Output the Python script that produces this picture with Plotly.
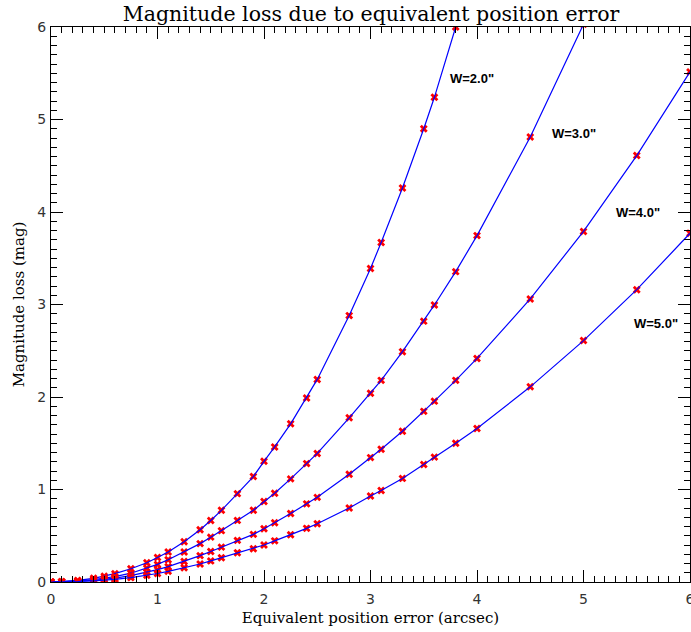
import plotly.graph_objects as go

# Equivalent position error (arcsec) sampling points shared by all curves
x_err = [0, 0.1, 0.25, 0.4, 0.5, 0.6, 0.75, 0.9, 1.0, 1.1, 1.25, 1.4, 1.5, 1.6, 1.75,
         1.9, 2.0, 2.1, 2.25, 2.4, 2.5, 2.8, 3.0, 3.1, 3.3, 3.5, 3.6, 3.8, 4.0, 4.5,
         5.0, 5.5, 6.0]

# Magnitude loss (mag) for each width W
loss_w2 = [0, 0.004, 0.017, 0.04, 0.063, 0.09, 0.143, 0.208, 0.265, 0.325, 0.435, 0.565,
           0.665, 0.775, 0.955, 1.14, 1.305, 1.46, 1.71, 1.99, 2.19, 2.88, 3.39, 3.67,
           4.26, 4.90, 5.24, 6.0]
loss_w3 = [0, 0.003, 0.011, 0.027, 0.042, 0.058, 0.095, 0.15, 0.19, 0.24, 0.325, 0.415,
           0.485, 0.555, 0.666, 0.775, 0.87, 0.96, 1.115, 1.28, 1.39, 1.775, 2.04, 2.18,
           2.49, 2.82, 2.995, 3.355, 3.745, 4.81, 6.03]
loss_w4 = [0, 0.002, 0.008, 0.019, 0.029, 0.041, 0.068, 0.104, 0.133, 0.166, 0.222, 0.285,
           0.33, 0.377, 0.45, 0.515, 0.575, 0.64, 0.74, 0.845, 0.915, 1.165, 1.345, 1.435,
           1.63, 1.845, 1.955, 2.18, 2.417, 3.06, 3.79, 4.61, 5.515]
loss_w5 = [0, 0.001, 0.005, 0.013, 0.02, 0.028, 0.047, 0.072, 0.092, 0.115, 0.153, 0.195,
           0.228, 0.262, 0.316, 0.36, 0.40, 0.445, 0.51, 0.58, 0.63, 0.80, 0.93, 0.99,
           1.12, 1.27, 1.35, 1.50, 1.66, 2.11, 2.61, 3.16, 3.77]

series = [loss_w2, loss_w3, loss_w4, loss_w5]

tick_vals = [0, 1, 2, 3, 4, 5, 6]
tick_text = ["0", "1", "2", "3", "4", "5", "6"]

label_text = ['W=2.0"', 'W=3.0"', 'W=4.0"', 'W=5.0"']
label_x = [3.73, 4.69, 5.29, 5.46]
label_y = [5.44, 4.85, 4.00, 2.80]

fig = go.Figure()
for ys in series:
    xs = x_err[:len(ys)]
    fig.add_trace(go.Scatter(x=xs, y=ys, mode="markers",
                             marker=dict(symbol="x", size=7, color="#ff0000"),
                             showlegend=False, hoverinfo="skip"))
    fig.add_trace(go.Scatter(x=xs, y=ys, mode="lines",
                             line=dict(color="#0000ff", width=1.2),
                             showlegend=False))

for t, lx, ly in zip(label_text, label_x, label_y):
    fig.add_annotation(x=lx, y=ly, xref="x", yref="y", text="<b>%s</b>" % t,
                       showarrow=False, xanchor="left", yanchor="middle",
                       font=dict(family="Liberation Sans", size=13, color="black"))

axis_common = dict(
    showline=True, linecolor="black", linewidth=1, mirror="allticks",
    ticks="inside", ticklen=12, tickwidth=1, tickcolor="black",
    showgrid=False, zeroline=False, automargin=False,
    tickmode="array", tickvals=tick_vals, ticktext=tick_text,
    ticklabeloverflow="allow",
    tickfont=dict(family="DejaVu Sans", size=14, color="#333333"),
    minor=dict(dtick=0.1, tick0=0, ticks="inside", ticklen=6, tickwidth=1,
               tickcolor="black", showgrid=False),
)

fig.update_xaxes(range=[0, 6], ticklabelstandoff=4,
                 title=dict(text="Equivalent position error (arcsec)",
                            font=dict(family="DejaVu Serif", size=15, color="black"),
                            standoff=6),
                 **axis_common)
fig.update_yaxes(range=[0, 6], ticklabelstandoff=1,
                 title=dict(text="Magnitude loss (mag)",
                            font=dict(family="DejaVu Serif", size=15, color="black"),
                            standoff=9),
                 **axis_common)

fig.update_layout(
    width=691, height=632,
    margin=dict(l=51, r=1, t=27, b=50),
    paper_bgcolor="white", plot_bgcolor="white",
    title=dict(text="Magnitude loss due to equivalent position error",
               x=0.537, xanchor="center", y=0.978, yanchor="middle",
               font=dict(family="DejaVu Serif", size=20.5, color="black")),
)

fig.write_html("out.html")
